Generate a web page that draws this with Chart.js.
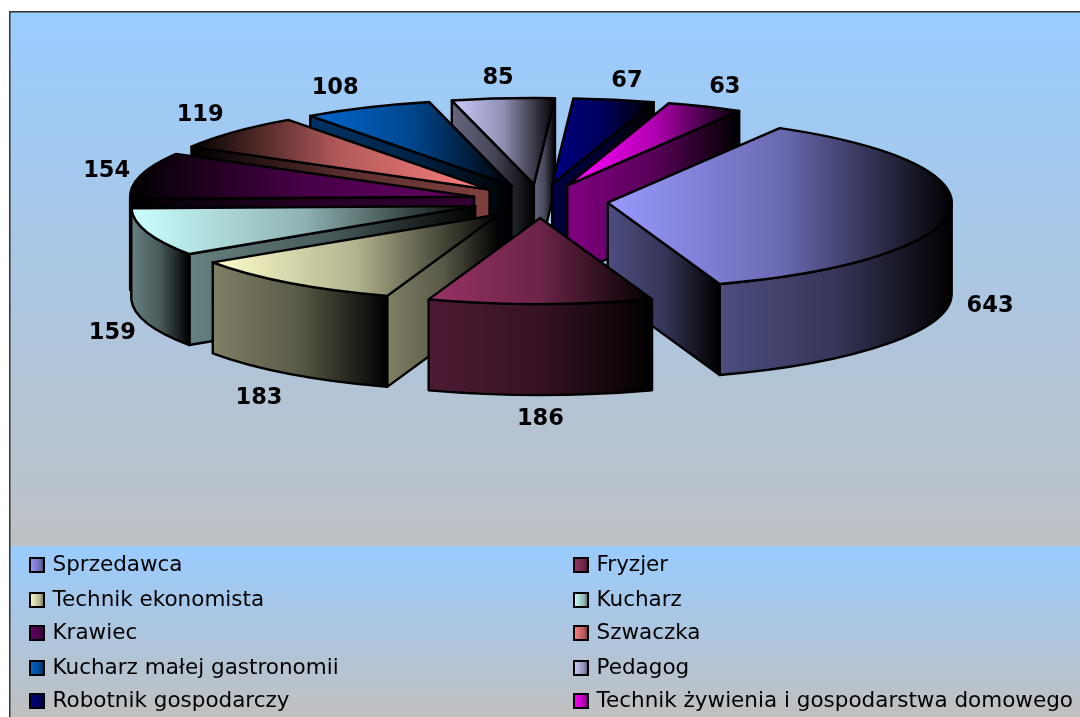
<!DOCTYPE html>
<html>
<head>
<meta charset="utf-8">
<title>Zawody</title>
<script src="https://cdn.jsdelivr.net/npm/chart.js@4"></script>
<style>
    html, body { margin: 0; padding: 0; background: #fff; overflow: hidden; }
    canvas { display: block; }
</style>
</head>
<body>
<canvas id="zawodyChart" width="1080" height="717"></canvas>
<script>
const categories = ['Sprzedawca', 'Fryzjer', 'Technik ekonomista', 'Kucharz', 'Krawiec', 'Szwaczka',
    'Kucharz małej gastronomii', 'Pedagog', 'Robotnik gospodarczy', 'Technik żywienia i gospodarstwa domowego'];
const values = [643, 186, 183, 159, 154, 119, 108, 85, 67, 63];
const colors = ['#9999ff', '#993366', '#ffffcc', '#ccffff', '#660066', '#ff8080', '#0066cc', '#ccccff', '#000080', '#ff00ff'];

// Krawiec i Szwaczka mają gradient odwrócony (ciemny po lewej)
const reversed = [false, false, false, false, true, true, false, false, false, false];
// przesunięcie etykiet względem krawędzi wycinka
const labelShift = [[40, 95], [0, 115], [-30, 115], [-35, 101], [-34, -4], [-34, -17], [-32, -19], [-5, -20], [13, -19], [20, -19]];

// wygląd "3D"
const centerX = 540, centerY = 201;
const radiusX = 344, radiusY = 86;
const explode = 68;
const depth = 91;

function shade(hex, k) {
    const n = parseInt(hex.slice(1), 16);
    return 'rgb(' + Math.round((n >> 16 & 255) * k) + ',' + Math.round((n >> 8 & 255) * k) + ',' + Math.round((n & 255) * k) + ')';
}

// kolor schodzi do czerni wolniej na początku, jak w oryginale
function hGradient(ctx, x0, x1, hex, k, flip) {
    const g = ctx.createLinearGradient(x0, 0, x1, 0);
    const at = t => flip ? 1 - t : t;
    g.addColorStop(at(0), shade(hex, k));
    g.addColorStop(at(0.5), shade(hex, k * 0.7));
    g.addColorStop(at(1), '#000');
    return g;
}

function slicePath(ctx, tx, ty, s, e) {
    ctx.beginPath();
    ctx.moveTo(tx, ty);
    ctx.ellipse(tx, ty, radiusX, radiusY, 0, s, e);
    ctx.closePath();
}

function drawWall(ctx, tx, ty, angle, hex, flip) {
    const px = tx + radiusX * Math.cos(angle), py = ty + radiusY * Math.sin(angle);
    ctx.beginPath();
    ctx.moveTo(tx, ty);
    ctx.lineTo(px, py);
    ctx.lineTo(px, py + depth);
    ctx.lineTo(tx, ty + depth);
    ctx.closePath();
    ctx.fillStyle = hGradient(ctx, Math.min(tx, px), Math.max(tx, px), hex, 0.5, flip);
    ctx.fill();
    ctx.stroke();
}

function drawRim(ctx, tx, ty, s, e, hex, flip) {
    const lo = Math.max(s, 0), hi = Math.min(e, Math.PI);
    if (hi <= lo) return;
    const x0 = tx + radiusX * Math.cos(hi), x1 = tx + radiusX * Math.cos(lo);
    ctx.beginPath();
    ctx.ellipse(tx, ty, radiusX, radiusY, 0, lo, hi);
    ctx.ellipse(tx, ty + depth, radiusX, radiusY, 0, hi, lo, true);
    ctx.closePath();
    ctx.fillStyle = hGradient(ctx, x0, x1, hex, 0.5, flip);
    ctx.fill();
    ctx.stroke();
}

const tlo = {
    id: 'tlo',
    beforeDraw(chart) {
        const ctx = chart.ctx;
        ctx.save();
        ctx.fillStyle = '#fff';
        ctx.fillRect(0, 0, 1080, 717);

        let g = ctx.createLinearGradient(0, 12, 0, 590);
        g.addColorStop(0, '#99ccff');
        g.addColorStop(1, '#c0c0c0');
        ctx.fillStyle = g;
        ctx.fillRect(10, 12, 1070, 534);

        g = ctx.createLinearGradient(0, 546, 0, 717);
        g.addColorStop(0, '#99ccff');
        g.addColorStop(1, '#c0c0c0');
        ctx.fillStyle = g;
        ctx.fillRect(10, 546, 1070, 171);

        ctx.fillStyle = '#333';
        ctx.fillRect(9, 11, 1071, 1.5);
        ctx.fillRect(9, 11, 1.5, 706);
        ctx.restore();
    }
};

const pie3d = {
    id: 'pie3d',
    beforeDatasetsDraw(chart) {
        const ctx = chart.ctx;
        const arcs = chart.getDatasetMeta(0).data;

        // najpierw wycinki z tyłu, na końcu te z przodu
        const order = arcs.map((arc, i) => i).sort((a, b) => {
            const ma = (arcs[a].startAngle + arcs[a].endAngle) / 2;
            const mb = (arcs[b].startAngle + arcs[b].endAngle) / 2;
            return Math.sin(ma) - Math.sin(mb);
        });

        ctx.save();
        ctx.strokeStyle = '#000';
        ctx.lineWidth = 2.4;
        ctx.lineJoin = 'round';

        order.forEach(i => {
            const arc = arcs[i];
            const s = arc.startAngle, e = arc.endAngle, mid = (s + e) / 2;
            const tx = centerX + explode * Math.cos(mid);
            const ty = centerY + explode * radiusY / radiusX * Math.sin(mid);
            const flip = reversed[i];

            // ściany tylko gdy są zwrócone do patrzącego
            if (Math.cos(s) < 0) drawWall(ctx, tx, ty, s, colors[i], flip);
            drawRim(ctx, tx, ty, s, e, colors[i], flip);
            if (Math.cos(e) > 0) drawWall(ctx, tx, ty, e, colors[i], flip);

            // górna ściana: element łuku biblioteki w przeskalowanym układzie
            const xs = [tx, tx + radiusX * Math.cos(s), tx + radiusX * Math.cos(e)];
            if (s <= 0 && e >= 0) xs.push(tx + radiusX);
            if (s <= Math.PI && e >= Math.PI) xs.push(tx - radiusX);
            const sx = radiusX / arc.outerRadius, sy = radiusY / arc.outerRadius;
            const ax0 = arc.x + (Math.min(...xs) - tx) / sx;
            const ax1 = arc.x + (Math.max(...xs) - tx) / sx;
            const base = arc.options;
            arc.options = Object.create(base, { backgroundColor: { value: hGradient(ctx, ax0, ax1, colors[i], 1, flip) } });
            ctx.save();
            ctx.translate(tx, ty);
            ctx.scale(sx, sy);
            ctx.translate(-arc.x, -arc.y);
            arc.draw(ctx);
            ctx.restore();
            arc.options = base;

            slicePath(ctx, tx, ty, s, e);
            ctx.stroke();
        });

        // etykiety wartości
        ctx.fillStyle = '#000';
        ctx.font = 'bold 22.5px "DejaVu Sans"';
        ctx.textAlign = 'center';
        ctx.textBaseline = 'middle';
        arcs.forEach((arc, i) => {
            const mid = (arc.startAngle + arc.endAngle) / 2;
            const tx = centerX + explode * Math.cos(mid);
            const ty = centerY + explode * radiusY / radiusX * Math.sin(mid);
            const x = tx + radiusX * Math.cos(mid) + labelShift[i][0];
            const y = ty + radiusY * Math.sin(mid) + labelShift[i][1];
            ctx.fillText(String(values[i]), x, y);
        });
        ctx.restore();
        return false;
    },
    afterDraw(chart) {
        // legenda w dwóch kolumnach
        const ctx = chart.ctx;
        const rows = [565, 600, 633, 668, 701];
        ctx.save();
        ctx.font = '21.5px "DejaVu Sans"';
        ctx.textAlign = 'left';
        ctx.textBaseline = 'middle';
        categories.forEach((name, i) => {
            const col = i % 2, y = rows[Math.floor(i / 2)];
            const x = col ? 574 : 30;
            ctx.fillStyle = hGradient(ctx, x, x + 20, colors[i], 1, false);
            ctx.fillRect(x, y - 7, 14, 14);
            ctx.strokeStyle = '#000';
            ctx.lineWidth = 2;
            ctx.strokeRect(x, y - 7, 14, 14);
            ctx.fillStyle = '#000';
            ctx.fillText(name, x + 22.5, y);
        });
        ctx.restore();
    }
};

document.addEventListener('DOMContentLoaded', function () {
    new Chart(document.getElementById('zawodyChart'), {
        type: 'pie',
        data: {
            labels: categories,
            datasets: [{
                data: values,
                backgroundColor: colors,
                borderWidth: 0
            }]
        },
        options: {
            responsive: false,
            animation: false,
            rotation: 30,
            plugins: {
                legend: { display: false },
                tooltip: { enabled: false }
            }
        },
        plugins: [tlo, pie3d]
    });
});
</script>
</body>
</html>
